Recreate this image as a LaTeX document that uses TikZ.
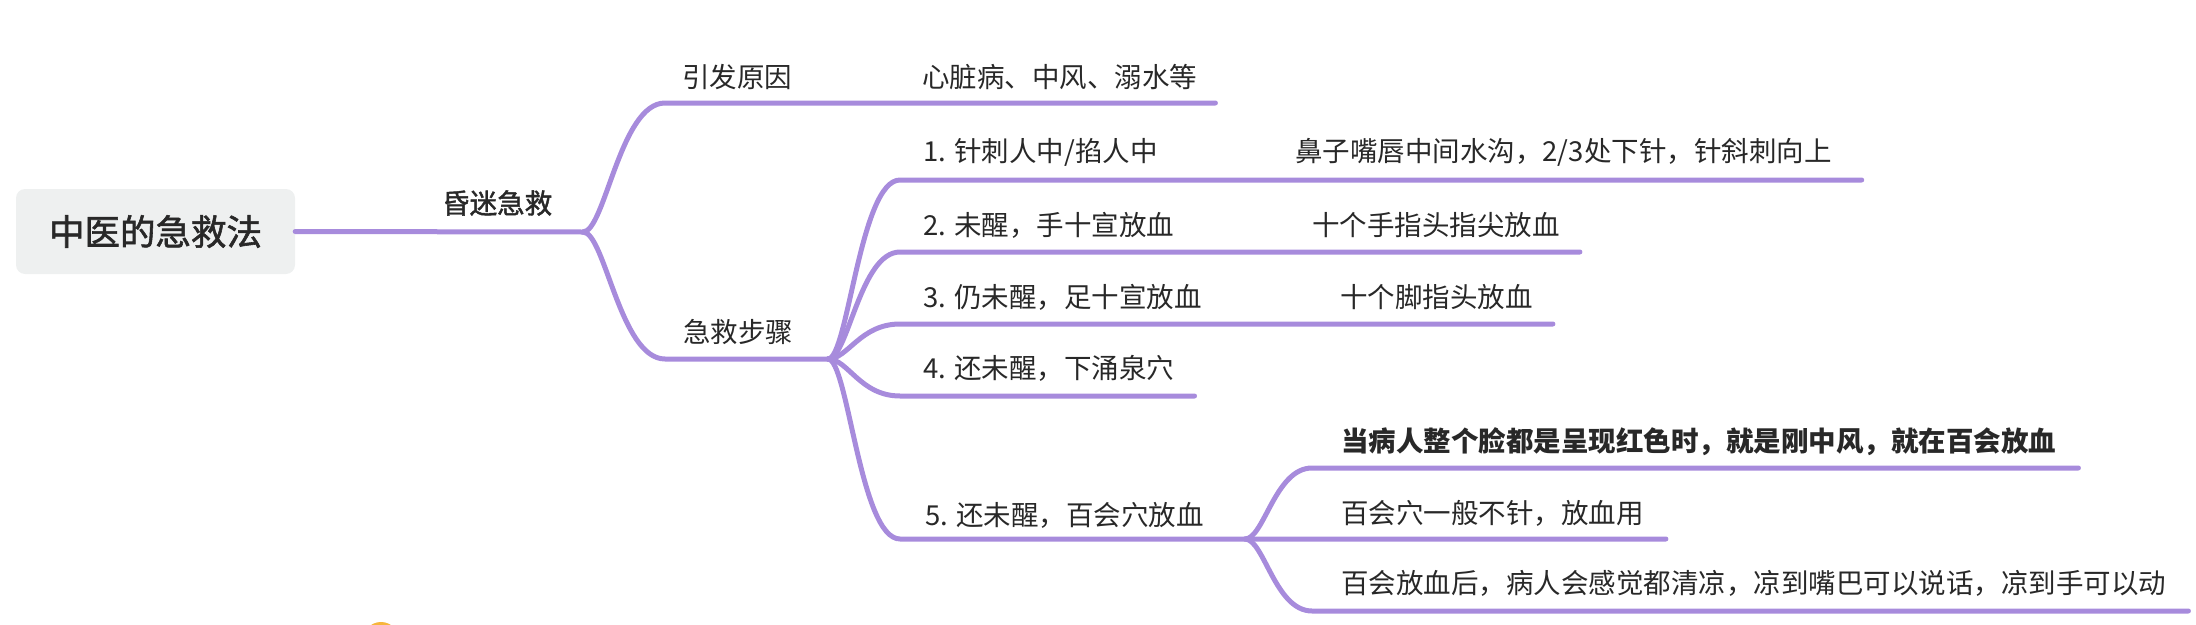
\documentclass[tikz,border=0pt]{standalone}
\usepackage{fontspec}
\setmainfont{Noto Sans CJK SC}
\newfontfamily\mediumfont[FakeBold=1.6]{Noto Sans CJK SC}
\usepackage{xcolor}
\usetikzlibrary{calc}
\definecolor{branchpurple}{RGB}{167,139,220}
\definecolor{rootgray}{RGB}{238,240,240}
\definecolor{inkgray}{RGB}{40,40,40}
\definecolor{iconorange}{RGB}{247,181,60}

\begin{document}
\begin{tikzpicture}[x=1pt, y=-1pt,
		branch/.style={draw=branchpurple, line width=5pt, line cap=round, line join=round},
		topic/.style={anchor=west, inner sep=0pt, text=inkgray, font=\fontsize{27.5}{33}\selectfont},
		boldtopic/.style={topic, font=\fontsize{27.5}{33}\selectfont\bfseries},
		mediumtopic/.style={topic, font=\mediumfont\fontsize{27.5}{33}\selectfont},
		roottopic/.style={fill=rootgray, rounded corners=9pt, minimum width=279pt, minimum height=85pt, inner sep=0pt, text=inkgray, font=\mediumfont\fontsize{35.5}{42}\selectfont}]
			\useasboundingbox (0,0) rectangle (2196,624);
			
			\node[roottopic] (root) at (155.5,231.5) {中医的急救法};
			\node[mediumtopic] (coma) at (442,203) {昏迷急救};
			
			\node[topic] (cause) at (682,77) {引发原因};
			\node[topic] (causes) at (922,77) {心脏病、中风、溺水等};
			\node[topic] (steps) at (683,332) {急救步骤};
			
			\node[topic] (step1) at (923,152) {1. 针刺人中/掐人中};
			\node[topic] (note1) at (1295,152) {鼻子嘴唇中间水沟，2/3处下针，针斜刺向上};
			\node[topic] (step2) at (923,225) {2. 未醒，手十宣放血};
			\node[topic] (note2) at (1312,225) {十个手指头指尖放血};
			\node[topic] (step3) at (923,297) {3. 仍未醒，足十宣放血};
			\node[topic] (note3) at (1340,297) {十个脚指头放血};
			\node[topic] (step4) at (923,368) {4. 还未醒，下涌泉穴};
			\node[topic] (step5) at (925,515) {5. 还未醒，百会穴放血};
			
			\node[boldtopic] (note5a) at (1341,442) {当病人整个脸都是呈现红色时，就是刚中风，就在百会放血};
			\node[topic] (note5b) at (1341,513) {百会穴一般不针，放血用};
			\node[topic] (note5c) at (1341,583) {百会放血后，病人会感觉都清凉，凉到嘴巴可以说话，凉到手可以动};
			
			\coordinate (fork1) at (583,232);
			\coordinate (fork2) at (828,359);
			\coordinate (fork3) at (1245,539);
			
			\coordinate (cause-s) at (665,103);
			\coordinate (steps-s) at (665,359);
			\coordinate (step1-s) at (900,180);
			\coordinate (step2-s) at (900,252);
			\coordinate (step3-s) at (900,324);
			\coordinate (step4-s) at (900,396);
			\coordinate (step5-s) at (900,539);
			\coordinate (note5a-s) at (1312,468);
			\coordinate (note5c-s) at (1312,611);
			
			\draw[branch] (root.east) -- (fork1);
			\draw[branch] (fork1) .. controls +(22,0) and +(-45,0) .. (cause-s) -- ($(cause-s -| causes.east)+(18,0)$);
			\draw[branch] (fork1) .. controls +(22,0) and +(-45,0) .. (steps-s) -- (fork2);
			
			\draw[branch] (fork2) .. controls +(20,0) and +(-40,0) .. (step1-s) -- ($(step1-s -| note1.east)+(30,0)$);
			\draw[branch] (fork2) .. controls +(20,0) and +(-40,0) .. (step2-s) -- ($(step2-s -| note2.east)+(20,0)$);
			\draw[branch] (fork2) .. controls +(20,0) and +(-40,0) .. (step3-s) -- ($(step3-s -| note3.east)+(20,0)$);
			\draw[branch] (fork2) .. controls +(20,0) and +(-40,0) .. (step4-s) -- ($(step4-s -| step4.east)+(20,0)$);
			\draw[branch] (fork2) .. controls +(20,0) and +(-40,0) .. (step5-s) -- (fork3) -- ($(fork3 -| note5b.east)+(22,0)$);
			
			\draw[branch] (fork3) .. controls +(19,0) and +(-37,0) .. (note5a-s) -- ($(note5a-s -| note5a.east)+(22,0)$);
			\draw[branch] (fork3) .. controls +(19,0) and +(-37,0) .. (note5c-s) -- ($(note5c-s -| note5c.east)+(22,0)$);
			
			\fill[iconorange] (381,640) circle (18);
		\end{tikzpicture}
\end{document}
